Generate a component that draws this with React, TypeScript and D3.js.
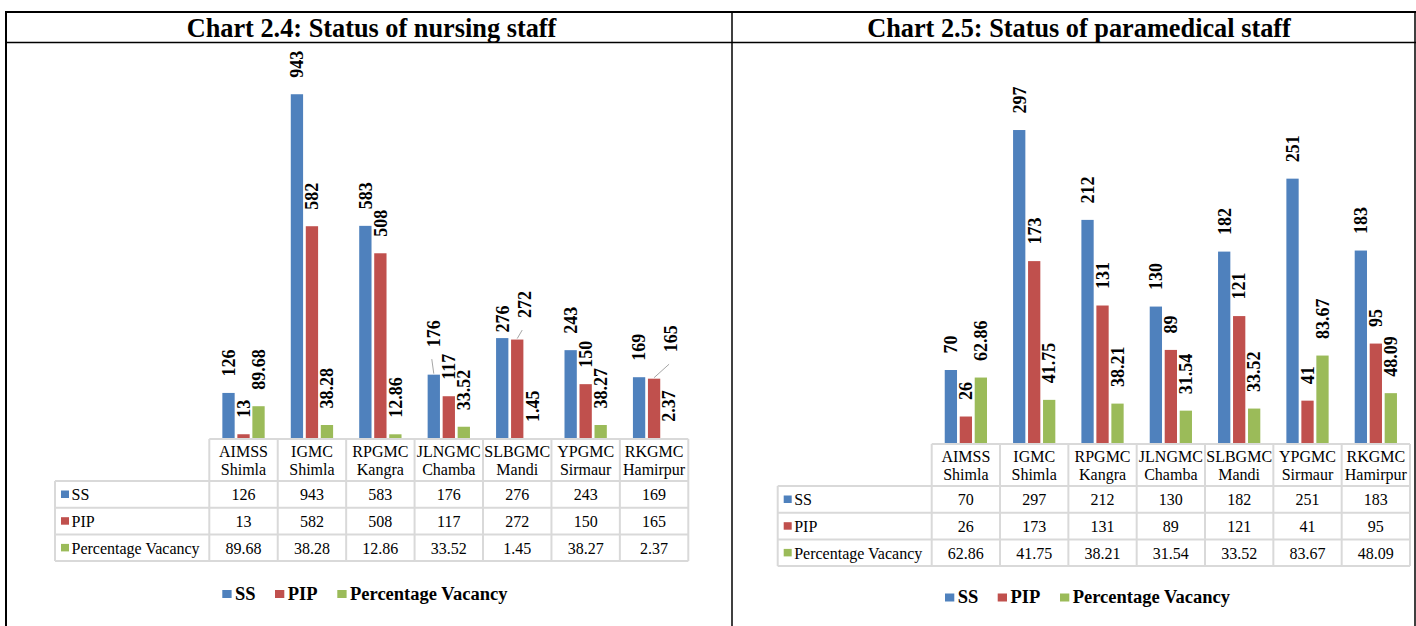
import React from 'react';
import * as d3 from 'd3';

// categories (two-line labels in the data table header)
const categoryTop = ['AIMSS', 'IGMC', 'RPGMC', 'JLNGMC', 'SLBGMC', 'YPGMC', 'RKGMC'];
const categoryBottom = ['Shimla', 'Shimla', 'Kangra', 'Chamba', 'Mandi', 'Sirmaur', 'Hamirpur'];

const seriesNames = ['SS', 'PIP', 'Percentage Vacancy'];
const seriesColors = ['#4F81BD', '#C0504D', '#9BBB59'];

// Chart 2.4 - nursing staff
const nursingSS = [126, 943, 583, 176, 276, 243, 169];
const nursingPIP = [13, 582, 508, 117, 272, 150, 165];
const nursingVacancy = [89.68, 38.28, 12.86, 33.52, 1.45, 38.27, 2.37];

// Chart 2.5 - paramedical staff
const paraSS = [70, 297, 212, 130, 182, 251, 183];
const paraPIP = [26, 173, 131, 89, 121, 41, 95];
const paraVacancy = [62.86, 41.75, 38.21, 31.54, 33.52, 83.67, 48.09];

// hand-moved data labels (series index, category index) -> offset, with leader line
const nursingNudges = {
  '0-3': { dx: 0, dy: -11, leader: true },
  '0-4': { dx: 0, dy: 11, leader: false },
  '1-4': { dx: 7, dy: -5, leader: true },
  '1-6': { dx: 17, dy: -10, leader: true },
};
const paraNudges = {};

const FONT = '"Liberation Serif", "Times New Roman", serif';

const fmt = (v, s) => (s === 2 ? v.toFixed(2) : String(v));

const Chart = ({ data, nudges, yMax, x0, x1, rowLabelX, tableTop, plotTop, legendX, legendY }) => {
  const headerH = 42;
  const rowH = 26.7;
  const tableBottom = tableTop + headerH + rowH * 3;

  const x = d3.scaleBand().domain(d3.range(categoryTop.length)).range([x0, x1]);
  const xs = d3.scaleBand().domain(d3.range(3)).range([0, x.bandwidth()]).paddingInner(0.18).paddingOuter(0.87);
  const y = d3.scaleLinear().domain([0, yMax]).range([tableTop, plotTop]);
  const gap = 16.5;
  const lineColor = '#d9d9d9';

  return (
    <g>
      {/* bars */}
      {data.map((vals, s) =>
        vals.map((v, i) => (
          <rect key={`b${s}-${i}`} x={x(i) + xs(s)} y={y(v)} width={xs.bandwidth()}
            height={tableTop - y(v)} fill={seriesColors[s]} />
        ))
      )}
      {/* data labels */}
      {data.map((vals, s) =>
        vals.map((v, i) => {
          const n = nudges[`${s}-${i}`] || { dx: 0, dy: 0, leader: false };
          const cx = x(i) + xs(s) + xs.bandwidth() / 2;
          const lx = cx + n.dx;
          const ly = y(v) - gap + n.dy;
          return (
            <g key={`l${s}-${i}`}>
              {n.leader && (
                <line x1={lx - 2} y1={ly + 12} x2={cx} y2={y(v) - 1} stroke="#a6a6a6" strokeWidth={1} />
              )}
              <text transform={`translate(${lx},${ly}) rotate(-90)`} dy="0.35em"
                fontFamily={FONT} fontWeight="bold" fontSize={18} fill="#000">
                {fmt(v, s)}
              </text>
            </g>
          );
        })
      )}
      {/* data table */}
      <g stroke={lineColor} strokeWidth={2} fill="none">
        <line x1={x0} x2={x1} y1={tableTop} y2={tableTop} />
        {[0, 1, 2, 3].map(r => (
          <line key={`h${r}`} x1={rowLabelX} x2={x1} y1={tableTop + headerH + rowH * r} y2={tableTop + headerH + rowH * r} />
        ))}
        <line x1={rowLabelX} x2={rowLabelX} y1={tableTop + headerH} y2={tableBottom} />
        {d3.range(categoryTop.length + 1).map(i => (
          <line key={`v${i}`} x1={x0 + x.step() * i} x2={x0 + x.step() * i} y1={tableTop} y2={tableBottom} />
        ))}
      </g>
      {categoryTop.map((c, i) => (
        <text key={`c${i}`} x={x(i) + x.bandwidth() / 2} textAnchor="middle" fontFamily={FONT} fontSize={16} fill="#000">
          <tspan x={x(i) + x.bandwidth() / 2} y={tableTop + 17.7}>{c}</tspan>
          <tspan x={x(i) + x.bandwidth() / 2} y={tableTop + 36}>{categoryBottom[i]}</tspan>
        </text>
      ))}
      {seriesNames.map((name, s) => {
        const rowTop = tableTop + headerH + rowH * s;
        return (
          <g key={`r${s}`}>
            <rect x={rowLabelX + 6} y={rowTop + 9.5} width={8} height={7.5} fill={seriesColors[s]} />
            <text x={rowLabelX + 16.5} y={rowTop + 19.3} fontFamily={FONT} fontSize={16} fill="#000">{name}</text>
            {data[s].map((v, i) => (
              <text key={i} x={x(i) + x.bandwidth() / 2} y={rowTop + 19.3} textAnchor="middle"
                fontFamily={FONT} fontSize={16} fill="#000">{fmt(v, s)}</text>
            ))}
          </g>
        );
      })}
      {/* legend */}
      {seriesNames.map((name, s) => {
        const lx = legendX + [0, 52.7, 115][s];
        return (
          <g key={`lg${s}`}>
            <rect x={lx} y={legendY - 9.5} width={9.3} height={8} fill={seriesColors[s]} />
            <text x={lx + 12.7} y={legendY} fontFamily={FONT} fontWeight="bold" fontSize={18.5} fill="#000">{name}</text>
          </g>
        );
      })}
    </g>
  );
};

const App = () => {
  const W = 1416;
  const H = 626;
  return (
    <div style={{ position: 'absolute', left: 0, top: 0, background: '#fff' }}>
      <svg width={W} height={H} viewBox={`0 0 ${W} ${H}`} style={{ display: 'block' }}>
        <rect width={W} height={H} fill="#fff" />
        {/* frame */}
        <g stroke="#000">
          <line x1={5} x2={W} y1={12} y2={12} strokeWidth={2} />
          <line x1={5} x2={W} y1={42.5} y2={42.5} strokeWidth={1.5} />
          <line x1={6} x2={6} y1={11} y2={H} strokeWidth={2} />
          <line x1={732} x2={732} y1={11} y2={H} strokeWidth={1.5} />
          <line x1={1415} x2={1415} y1={11} y2={H} strokeWidth={1.5} />
        </g>
        <text x={371.5} y={36.5} textAnchor="middle" fontFamily={FONT} fontWeight="bold" fontSize={26.3} fill="#000">
          Chart 2.4: Status of nursing staff
        </text>
        <text x={1079} y={36.5} textAnchor="middle" fontFamily={FONT} fontWeight="bold" fontSize={26.3} fill="#000">
          Chart 2.5: Status of paramedical staff
        </text>
        <Chart data={[nursingSS, nursingPIP, nursingVacancy]} nudges={nursingNudges} yMax={1000}
          x0={209.3} x1={688.3} rowLabelX={55} tableTop={439} plotTop={73.4} legendX={222.3} legendY={599.5} />
        <Chart data={[paraSS, paraPIP, paraVacancy]} nudges={paraNudges} yMax={350}
          x0={931.7} x1={1410} rowLabelX={777.7} tableTop={444} plotTop={74} legendX={945} legendY={603} />
      </svg>
    </div>
  );
};

export default App;
